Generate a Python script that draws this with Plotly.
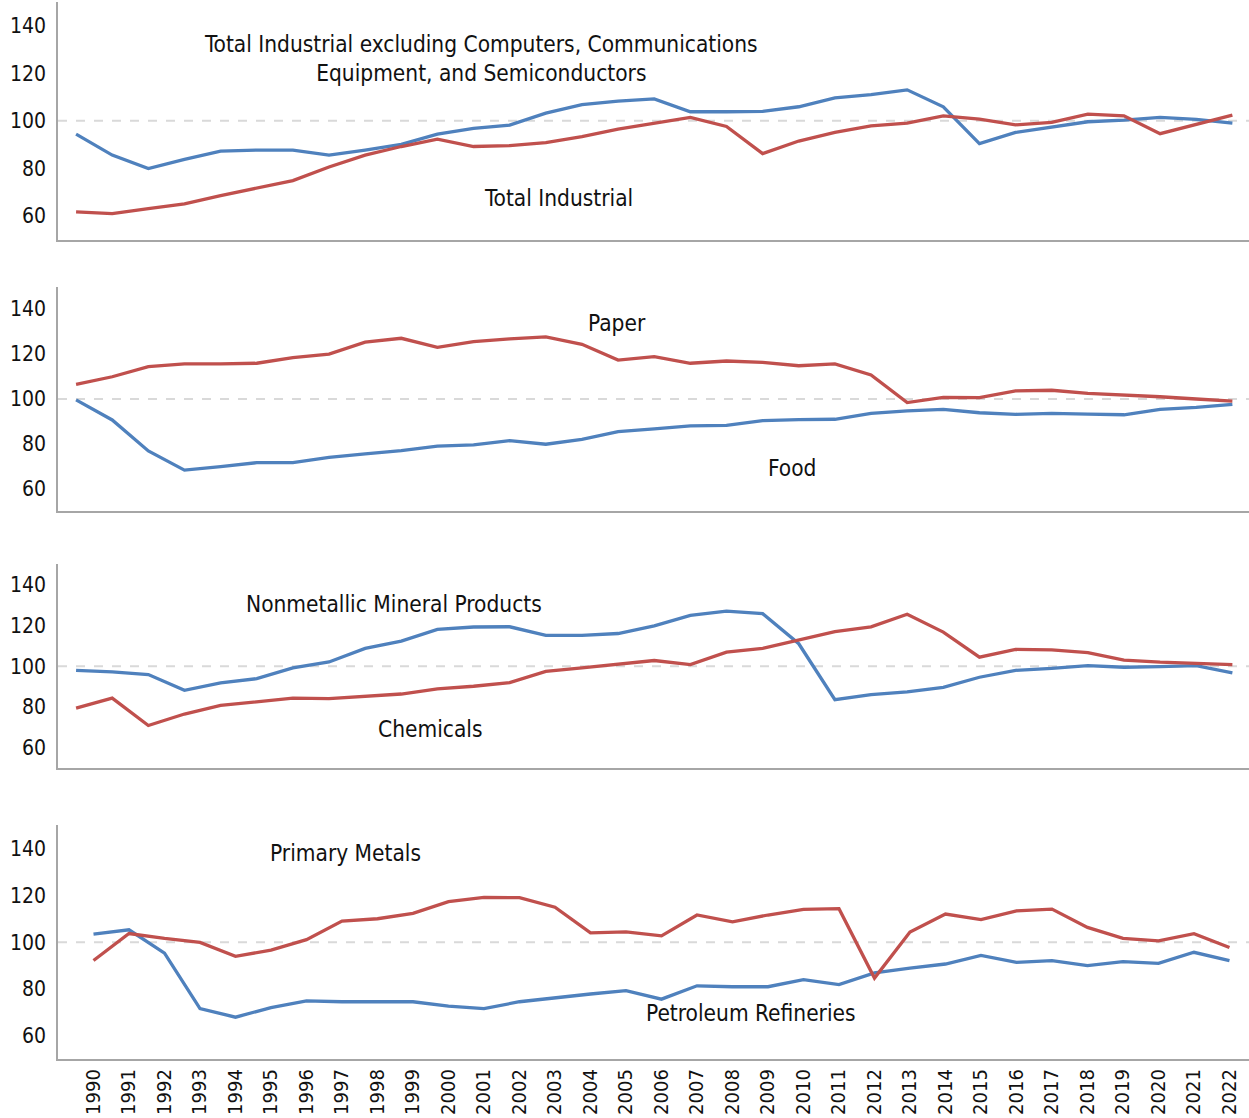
import plotly.graph_objects as go

years = list(range(1990, 2023))

# Panel 1: total industrial
total_excl_cces = [94.4, 85.6, 79.9, 83.8, 87.3, 87.7, 87.7, 85.6, 87.7, 90.1,
                   94.4, 96.8, 98.2, 103.2, 106.8, 108.3, 109.2, 103.8, 103.8, 104.0,
                   105.9, 109.6, 111.0, 113.0, 105.9, 90.4, 95.1, 97.5, 99.6, 100.3,
                   101.4, 100.6, 99.0]
total_industrial = [61.7, 61.0, 63.1, 65.1, 68.6, 71.8, 74.9, 80.6, 85.6, 89.2,
                    92.3, 89.2, 89.6, 90.8, 93.4, 96.5, 99.0, 101.4, 97.6, 86.2,
                    91.5, 95.1, 97.9, 99.0, 102.1, 100.7, 98.3, 99.3, 102.8, 102.1,
                    94.6, 98.6, 102.4]

# Panel 2: paper and food
paper = [106.5, 109.9, 114.4, 115.6, 115.6, 115.9, 118.4, 120.0, 125.3, 127.0,
         123.0, 125.5, 126.7, 127.6, 124.3, 117.3, 118.8, 115.9, 116.9, 116.3,
         114.8, 115.6, 110.7, 98.4, 100.7, 100.6, 103.6, 103.9, 102.5, 101.8,
         101.0, 100.0, 99.1]
food = [99.6, 90.7, 76.9, 68.4, 69.9, 71.7, 71.7, 74.1, 75.6, 77.1,
        79.1, 79.6, 81.5, 79.9, 82.1, 85.5, 86.7, 88.1, 88.3, 90.4,
        90.8, 91.0, 93.6, 94.7, 95.4, 93.9, 93.2, 93.6, 93.3, 93.0,
        95.4, 96.3, 97.6]

# Panel 3: nonmetallic minerals and chemicals
nonmetallic = [98.0, 97.2, 95.9, 88.2, 91.8, 93.9, 99.2, 102.1, 108.7, 112.3,
               118.0, 119.2, 119.3, 115.1, 115.1, 116.0, 119.7, 124.9, 127.0, 125.7,
               111.0, 83.6, 86.1, 87.4, 89.7, 94.6, 98.0, 98.9, 100.3, 99.5,
               99.8, 100.3, 96.7]
chemicals = [79.5, 84.4, 71.0, 76.6, 80.8, 82.5, 84.4, 84.1, 85.2, 86.4,
             88.9, 90.2, 92.0, 97.5, 99.2, 101.1, 102.8, 100.8, 106.9, 108.7,
             112.8, 116.9, 119.3, 125.4, 116.7, 104.4, 108.2, 108.0, 106.7, 103.0,
             102.0, 101.3, 100.8]

# Panel 4: primary metals and petroleum refineries
primary_metals = [92.2, 103.7, 101.6, 99.9, 94.0, 96.6, 101.1, 109.0, 110.0, 112.3,
                  117.3, 119.1, 119.0, 114.9, 104.0, 104.4, 102.7, 111.6, 108.7, 111.6,
                  114.0, 114.3, 84.7, 104.3, 112.0, 109.6, 113.4, 114.1, 106.3, 101.6,
                  100.6, 103.6, 97.7]
petroleum = [103.4, 105.3, 95.3, 71.7, 68.0, 72.1, 75.0, 74.6, 74.6, 74.6,
             72.7, 71.7, 74.6, 76.3, 77.9, 79.3, 75.7, 81.4, 81.0, 81.0,
             84.0, 81.9, 86.9, 88.9, 90.7, 94.4, 91.4, 92.1, 90.0, 91.7,
             91.0, 95.7, 92.1]

y_ticks = [60, 80, 100, 120, 140]

BLUE = "#4f81bd"
RED = "#c0504d"
FONT = "DejaVu Sans Condensed"
Y_TICK_SIZE = 21
X_TICK_SIZE = 20
LABEL_SIZE = 22.5

W, H = 1249, 1118

panels = [
    # (blue series, red series, y domain, x range, show year labels)
    (total_excl_cces, total_industrial, [0.7855, 0.9984], [1989.5, 2022.46], False),
    (food, paper, [0.5425, 0.7437], [1989.5, 2022.46], False),
    (nonmetallic, chemicals, [0.3127, 0.4955], [1989.5, 2022.46], False),
    (petroleum, primary_metals, [0.0524, 0.2621], [1989.0, 2022.55], True),
]

fig = go.Figure()
layout = {}
shapes = []
for i, (blue, red, ydom, xrng, show_years) in enumerate(panels, start=1):
    xa = "x" if i == 1 else f"x{i}"
    ya = "y" if i == 1 else f"y{i}"
    xkey = "xaxis" if i == 1 else f"xaxis{i}"
    ykey = "yaxis" if i == 1 else f"yaxis{i}"
    fig.add_trace(go.Scatter(x=years, y=blue, mode="lines", xaxis=xa, yaxis=ya,
                             line=dict(color=BLUE, width=3.3), showlegend=False))
    fig.add_trace(go.Scatter(x=years, y=red, mode="lines", xaxis=xa, yaxis=ya,
                             line=dict(color=RED, width=3.3), showlegend=False))
    layout[xkey] = dict(
        domain=[58 / W, 1.0], range=xrng, anchor=ya, automargin=False,
        showgrid=False, zeroline=False, showline=True,
        linecolor="#a6a6a6", linewidth=1.5, ticks="",
        tickmode="array", tickvals=years if show_years else [],
        ticktext=[str(y) for y in years] if show_years else [],
        tickangle=-90,
        tickfont=dict(family=FONT, size=X_TICK_SIZE, color="#111111"),
    )
    layout[ykey] = dict(
        domain=ydom, range=[50, 150], anchor=xa, automargin=False,
        showgrid=False, zeroline=False, showline=True,
        linecolor="#a6a6a6", linewidth=1.5, ticks="",
        tickmode="array", tickvals=y_ticks, ticklabelstandoff=6,
        tickfont=dict(family=FONT, size=Y_TICK_SIZE, color="#111111"),
    )
    shapes.append(dict(type="line", xref=f"{xa} domain", yref=ya,
                       x0=0, x1=1, y0=100, y1=100, layer="below",
                       line=dict(color="#d9d9d9", width=2, dash="dash")))

labels = [
    ("Total Industrial excluding Computers, Communications<br>Equipment, and Semiconductors", 481, 58),
    ("Total Industrial", 558, 198),
    ("Paper", 617, 323),
    ("Food", 792, 468),
    ("Nonmetallic Mineral Products", 394, 604),
    ("Chemicals", 430, 729),
    ("Primary Metals", 345, 853),
    ("Petroleum Refineries", 751, 1013),
]
annotations = [
    dict(text=t, xref="paper", yref="paper", x=px / W, y=1 - py / H,
         xanchor="center", yanchor="middle", showarrow=False,
         font=dict(family=FONT, size=LABEL_SIZE, color="#111111"))
    for t, px, py in labels
]

fig.update_layout(
    width=W, height=H,
    margin=dict(l=0, r=0, t=0, b=0),
    paper_bgcolor="white", plot_bgcolor="white",
    shapes=shapes, annotations=annotations,
    **layout,
)

fig.write_html("out.html")
